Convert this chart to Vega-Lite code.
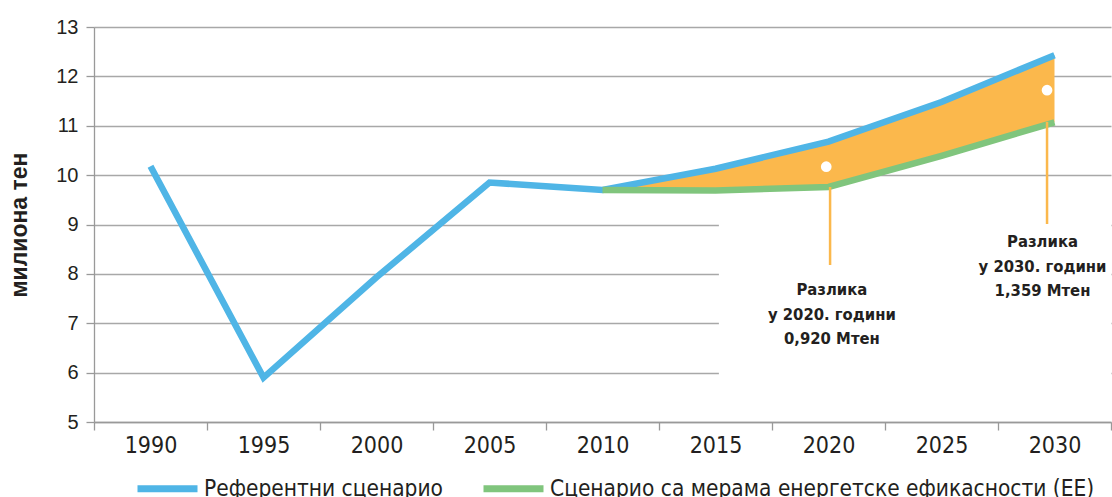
{
  "$schema": "https://vega.github.io/schema/vega-lite/v6.json",
  "width": 1017,
  "height": 395,
  "autosize": {"type": "none"},
  "padding": {"left": 94, "top": 27, "right": 1, "bottom": 75},
  "background": "white",
  "config": {"view": {"stroke": null}},
  "datasets": {
    "lines": [
      {"year": 1990, "series": "Референтни сценарио", "value": 10.18},
      {"year": 1995, "series": "Референтни сценарио", "value": 5.9},
      {"year": 2000, "series": "Референтни сценарио", "value": 7.93},
      {"year": 2005, "series": "Референтни сценарио", "value": 9.85},
      {"year": 2010, "series": "Референтни сценарио", "value": 9.7},
      {"year": 2015, "series": "Референтни сценарио", "value": 10.13},
      {"year": 2020, "series": "Референтни сценарио", "value": 10.68},
      {"year": 2025, "series": "Референтни сценарио", "value": 11.48},
      {"year": 2030, "series": "Референтни сценарио", "value": 12.43},
      {"year": 2010, "series": "Сценарио са мерама енергетске ефикасности (ЕЕ)", "value": 9.7},
      {"year": 2015, "series": "Сценарио са мерама енергетске ефикасности (ЕЕ)", "value": 9.69},
      {"year": 2020, "series": "Сценарио са мерама енергетске ефикасности (ЕЕ)", "value": 9.76},
      {"year": 2025, "series": "Сценарио са мерама енергетске ефикасности (ЕЕ)", "value": 10.39},
      {"year": 2030, "series": "Сценарио са мерама енергетске ефикасности (ЕЕ)", "value": 11.07}
    ],
    "gap": [
      {"year": 2010, "ref": 9.7, "ee": 9.7},
      {"year": 2015, "ref": 10.13, "ee": 9.69},
      {"year": 2020, "ref": 10.68, "ee": 9.76},
      {"year": 2025, "ref": 11.48, "ee": 10.39},
      {"year": 2030, "ref": 12.43, "ee": 11.07}
    ],
    "panel": [
      {"x0": 2015.15, "x1": 2032.5, "y0": 5.3, "y1": 9.45}
    ],
    "leaders": [
      {"year": 2020.07, "top": 9.76, "bottom": 8.18},
      {"year": 2029.67, "top": 11.08, "bottom": 9.01}
    ],
    "dots": [
      {"year": 2019.9, "value": 10.17},
      {"year": 2029.67, "value": 11.72}
    ],
    "notes": [
      {"year": 2020.15, "value": 7.57, "label": "Разлика\nу 2020. години\n0,920 Мтен"},
      {"year": 2029.47, "value": 8.54, "label": "Разлика\nу 2030. години\n1,359 Мтен"}
    ]
  },
  "layer": [
    {
      "data": {"name": "panel"},
      "mark": {"type": "rect", "color": "white"},
      "encoding": {
        "x": {"field": "x0", "type": "quantitative",
          "scale": {"domain": [1987.5, 2032.5], "nice": false, "zero": false},
          "axis": {
            "values": [1987.5, 1990, 1992.5, 1995, 1997.5, 2000, 2002.5, 2005, 2007.5, 2010, 2012.5, 2015, 2017.5, 2020, 2022.5, 2025, 2027.5, 2030, 2032.5],
            "format": "d",
            "labelExpr": "datum.value % 5 === 0 ? datum.label : ''",
            "tickOpacity": {"condition": {"test": "datum.value % 5 === 0", "value": 0}, "value": 1},
            "title": null,
            "grid": false,
            "labelFlush": false,
            "labelOverlap": false,
            "labelFont": "DejaVu Sans Condensed, Roboto, sans-serif",
            "labelFontSize": 23,
            "labelColor": "#231f20",
            "labelPadding": 4,
            "tickSize": 8,
            "tickColor": "#999999",
            "tickWidth": 1.3,
            "domainColor": "#999999",
            "domainWidth": 1.3
          }},
        "x2": {"field": "x1"},
        "y": {"field": "y0", "type": "quantitative",
          "scale": {"domain": [5, 13], "nice": false, "zero": false},
          "axis": {
            "values": [5, 6, 7, 8, 9, 10, 11, 12, 13],
            "title": "милиона тен",
            "titleFont": "Liberation Sans",
            "titleFontWeight": "bold",
            "titleFontSize": 23,
            "titleColor": "#231f20",
            "titlePadding": 24,
            "grid": true,
            "gridColor": "#a8a8a8",
            "gridWidth": 1.3,
            "labelFont": "Liberation Sans",
            "labelFontSize": 20,
            "labelColor": "#231f20",
            "labelPadding": 8,
            "tickSize": 8,
            "tickColor": "#999999",
            "tickWidth": 1.3,
            "domainColor": "#999999",
            "domainWidth": 1.3
          }},
        "y2": {"field": "y1"}
      }
    },
    {
      "data": {"name": "gap"},
      "mark": {"type": "area", "color": "#fbb84c", "opacity": 1},
      "encoding": {
        "x": {"field": "year", "type": "quantitative"},
        "y": {"field": "ee", "type": "quantitative"},
        "y2": {"field": "ref"}
      }
    },
    {
      "data": {"name": "lines"},
      "mark": {"type": "line", "strokeWidth": 6.5},
      "encoding": {
        "x": {"field": "year", "type": "quantitative"},
        "y": {"field": "value", "type": "quantitative"},
        "color": {"field": "series", "type": "nominal",
          "scale": {"domain": ["Референтни сценарио", "Сценарио са мерама енергетске ефикасности (ЕЕ)"], "range": ["#4fb5e6", "#80c57d"]},
          "legend": {
            "title": null,
            "orient": "none",
            "legendX": 40,
            "legendY": 428,
            "direction": "horizontal",
            "symbolType": "stroke",
            "symbolSize": 3600,
            "symbolStrokeWidth": 7,
            "labelFont": "DejaVu Sans Condensed, Roboto, sans-serif",
            "labelFontSize": 22.5,
            "labelColor": "#231f20",
            "labelOffset": 3,
            "labelLimit": 800,
            "columnPadding": 26
          }},
        "order": {"field": "year", "type": "quantitative"}
      }
    },
    {
      "data": {"name": "leaders"},
      "mark": {"type": "rule", "color": "#fbb84c", "strokeWidth": 2.5},
      "encoding": {
        "x": {"field": "year", "type": "quantitative"},
        "y": {"field": "top", "type": "quantitative"},
        "y2": {"field": "bottom"}
      }
    },
    {
      "data": {"name": "dots"},
      "mark": {"type": "point", "filled": true, "color": "white", "size": 115, "opacity": 1},
      "encoding": {
        "x": {"field": "year", "type": "quantitative"},
        "y": {"field": "value", "type": "quantitative"}
      }
    },
    {
      "data": {"name": "notes"},
      "mark": {"type": "text", "font": "DejaVu Sans Condensed, Roboto, sans-serif", "fontWeight": "bold", "fontSize": 16.5, "color": "#231f20", "align": "center", "baseline": "alphabetic", "lineBreak": "\n", "lineHeight": 24.5},
      "encoding": {
        "x": {"field": "year", "type": "quantitative"},
        "y": {"field": "value", "type": "quantitative"},
        "text": {"field": "label", "type": "nominal"}
      }
    }
  ]
}
